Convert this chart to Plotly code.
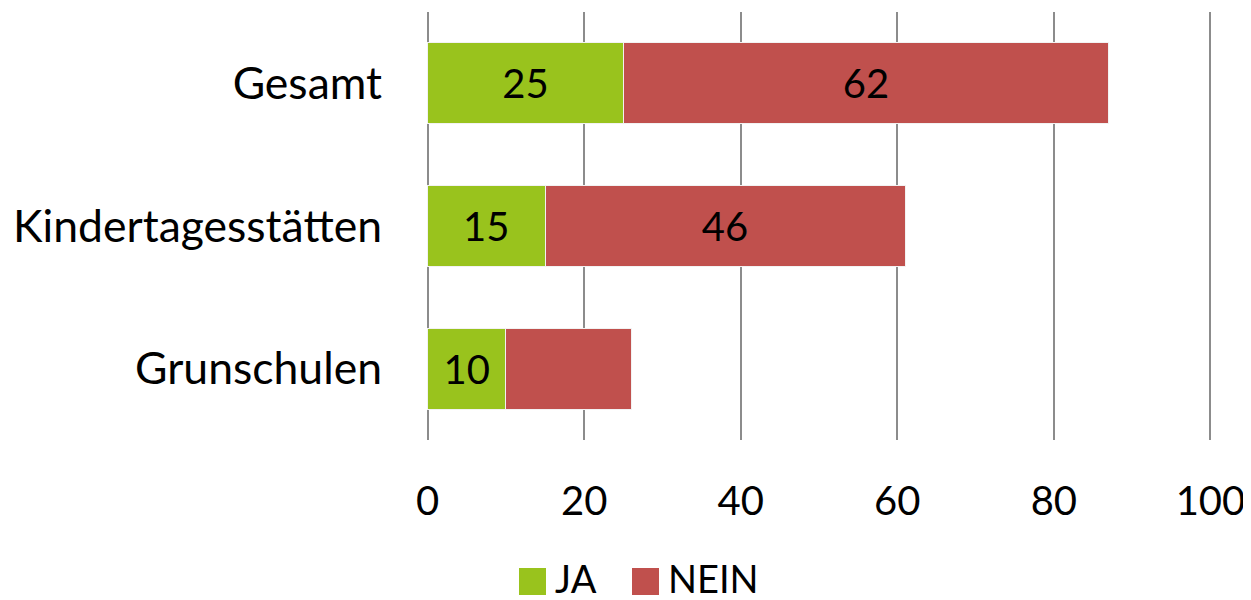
import plotly.graph_objects as go

categories = ["Gesamt", "Kindertagesstätten", "Grunschulen"]
ja_values = [25, 15, 10]
nein_values = [62, 46, 16]
ja_labels = ["25", "15", "10"]
nein_labels = ["62", "46", ""]
x_ticks = [0, 20, 40, 60, 80, 100]
series_names = ["JA", "NEIN"]

green = "#99C31D"
red = "#C0504D"
font_family = "Lato, 'Open Sans', sans-serif"

# the page body has an 8px margin, so the figure is drawn 8px smaller/shifted
OFF = 8
W, H = 1251 - OFF, 600 - OFF
# plot area in figure pixels (range padded a bit so the 0 and 100 grid lines show)
L, R, T, B = 418, 1204, 12 - OFF, 440 - OFF

fig = go.Figure()
fig.add_trace(go.Bar(y=categories, x=ja_values, name=series_names[0], orientation="h",
                     marker=dict(color=green, line=dict(color="#f2f2f2", width=1)),
                     text=ja_labels, textposition="inside", insidetextanchor="middle",
                     textfont=dict(color="black", size=40), showlegend=False))
fig.add_trace(go.Bar(y=categories, x=nein_values, name=series_names[1], orientation="h",
                     marker=dict(color=red, line=dict(color="#f2f2f2", width=1)),
                     text=nein_labels, textposition="inside", insidetextanchor="middle",
                     textfont=dict(color="black", size=40), showlegend=False))


def px(x):
    return (x - OFF - L) / (R - L)


def py(y):
    return (B - (y - OFF)) / (B - T)


# legend drawn by hand so the swatches match the large squares
legend_items = [(519, green, series_names[0]), (632, red, series_names[1])]
for x0, col, label in legend_items:
    fig.add_shape(type="rect", xref="paper", yref="paper",
                  x0=px(x0), x1=px(x0 + 27), y0=py(595), y1=py(568),
                  fillcolor=col, line=dict(width=0))
    fig.add_annotation(xref="paper", yref="paper", x=px(x0 + 34), y=py(578),
                       xanchor="left", yanchor="middle", text=label, showarrow=False,
                       font=dict(size=38, color="black"))

fig.update_layout(
    barmode="stack",
    bargap=0.43,
    width=W, height=H,
    margin=dict(l=L, r=W - R, t=T, b=H - B, autoexpand=False),
    paper_bgcolor="white", plot_bgcolor="white",
    font=dict(family=font_family, size=40, color="black"),
    uniformtext=dict(minsize=10, mode="show"),
    showlegend=False,
    xaxis=dict(range=[-0.2, 100.2], tickvals=x_ticks, showgrid=True, gridcolor="#8c8c8c",
               gridwidth=1.5, zeroline=False, showline=False, ticks="",
               ticklabelstandoff=34, automargin=False),
    yaxis=dict(categoryorder="array", categoryarray=categories[::-1], showgrid=False,
               zeroline=False, showline=False, ticks="", ticklabelstandoff=43,
               tickfont=dict(size=44.5), automargin=False),
)

fig.write_html("out.html")
